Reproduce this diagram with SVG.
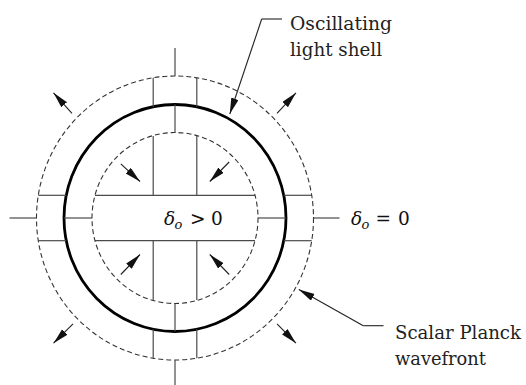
<svg xmlns="http://www.w3.org/2000/svg" width="526" height="385" viewBox="0 0 526 385">
<style>
.thin{stroke:#4a4a4a;stroke-width:1.2;fill:none}
.dash{stroke:#333;stroke-width:1.1;fill:none;stroke-dasharray:5 3}
.thick{stroke:#000;stroke-width:2.8;fill:none}
.arr{stroke:#222;stroke-width:1.1;fill:none}
.lead{stroke:#222;stroke-width:1.1;fill:none}
.lbl{font-family:"DejaVu Serif",serif;font-size:18.5px;fill:#222}
.math{font-family:"DejaVu Serif",serif;font-size:18.5px;fill:#111}
.it{font-style:italic}
</style>
<defs>
<marker id="ah" markerUnits="userSpaceOnUse" markerWidth="18" markerHeight="9" refX="16" refY="3.8" orient="auto">
<path d="M0,0 L16,3.8 L0,7.6 Z" fill="#111"/>
</marker>
</defs>
<rect width="526" height="385" fill="#fff"/>
<g id="outer-wavefront"><ellipse class="dash" cx="175" cy="218" rx="138.5" ry="142"/></g>
<g id="light-shell"><ellipse class="thick" cx="175" cy="218" rx="111" ry="113.5"/></g>
<g id="inner-wavefront"><ellipse class="dash" cx="175" cy="218" rx="83" ry="85.5"/></g>
<g id="grid">
<line class="thin" x1="9.5" y1="218" x2="36.5" y2="218"/>
<line class="thin" x1="64" y1="218" x2="92" y2="218"/>
<line class="thin" x1="258" y1="218" x2="286" y2="218"/>
<line class="thin" x1="313.5" y1="218" x2="339.5" y2="218"/>
<line class="thin" x1="175" y1="48" x2="175" y2="76"/>
<line class="thin" x1="175" y1="104.5" x2="175" y2="132.5"/>
<line class="thin" x1="175" y1="303.5" x2="175" y2="331.5"/>
<line class="thin" x1="175" y1="360" x2="175" y2="385"/>
<line class="thin" x1="153.2" y1="77.8" x2="153.2" y2="106.7"/>
<line class="thin" x1="196.8" y1="77.8" x2="196.8" y2="106.7"/>
<line class="thin" x1="153.2" y1="136" x2="153.2" y2="195.3"/>
<line class="thin" x1="196.8" y1="136" x2="196.8" y2="195.3"/>
<line class="thin" x1="153.2" y1="240.7" x2="153.2" y2="300"/>
<line class="thin" x1="196.8" y1="240.7" x2="196.8" y2="300"/>
<line class="thin" x1="153.2" y1="329.3" x2="153.2" y2="358.2"/>
<line class="thin" x1="196.8" y1="329.3" x2="196.8" y2="358.2"/>
<line class="thin" x1="38.3" y1="195.3" x2="66.2" y2="195.3"/>
<line class="thin" x1="38.3" y1="240.7" x2="66.2" y2="240.7"/>
<line class="thin" x1="95" y1="195.3" x2="255" y2="195.3"/>
<line class="thin" x1="95" y1="240.7" x2="255" y2="240.7"/>
<line class="thin" x1="283.8" y1="195.3" x2="311.7" y2="195.3"/>
<line class="thin" x1="283.8" y1="240.7" x2="311.7" y2="240.7"/>
</g>
<g id="connectors">
<line class="arr" x1="72" y1="113.4" x2="53.5" y2="92.8" marker-end="url(#ah)"/>
<line class="arr" x1="277" y1="113.4" x2="296" y2="92.8" marker-end="url(#ah)"/>
<line class="arr" x1="73" y1="323.8" x2="53.5" y2="343.2" marker-end="url(#ah)"/>
<line class="arr" x1="277" y1="323.8" x2="296" y2="343.2" marker-end="url(#ah)"/>
<line class="arr" x1="120.8" y1="163.8" x2="140" y2="181.5" marker-end="url(#ah)"/>
<line class="arr" x1="229.2" y1="162" x2="209.8" y2="181.5" marker-end="url(#ah)"/>
<line class="arr" x1="120.8" y1="274.5" x2="140" y2="254.5" marker-end="url(#ah)"/>
<line class="arr" x1="229.2" y1="274.5" x2="209.8" y2="254.5" marker-end="url(#ah)"/>
<polyline class="lead" points="282,19 261.7,19"/>
<line class="arr" x1="261.7" y1="19" x2="229.8" y2="114" marker-end="url(#ah)"/>
<polyline class="lead" points="383.5,325.7 363.3,325.7"/>
<line class="arr" x1="363.3" y1="325.7" x2="298.8" y2="289.5" marker-end="url(#ah)"/>
</g>
<g id="label-shell">
<text class="lbl" x="290" y="30" textLength="102" lengthAdjust="spacingAndGlyphs">Oscillating</text>
<text class="lbl" x="290" y="56" textLength="92" lengthAdjust="spacingAndGlyphs">light shell</text>
</g>
<g id="label-wavefront">
<text class="lbl" x="395" y="338.5" textLength="126" lengthAdjust="spacingAndGlyphs">Scalar Planck</text>
<text class="lbl" x="395" y="365" textLength="91" lengthAdjust="spacingAndGlyphs">wavefront</text>
</g>
<g id="label-inside">
<text class="math"><tspan class="it" x="164" y="225">δ</tspan><tspan class="it" x="174.5" y="229" font-size="13">o</tspan><tspan x="190" y="225">&gt;</tspan><tspan x="211" y="225">0</tspan></text>
</g>
<g id="label-outside">
<text class="math"><tspan class="it" x="351" y="225">δ</tspan><tspan class="it" x="361.5" y="229" font-size="13">o</tspan><tspan x="375.5" y="225">=</tspan><tspan x="398" y="225">0</tspan></text>
</g>
</svg>
